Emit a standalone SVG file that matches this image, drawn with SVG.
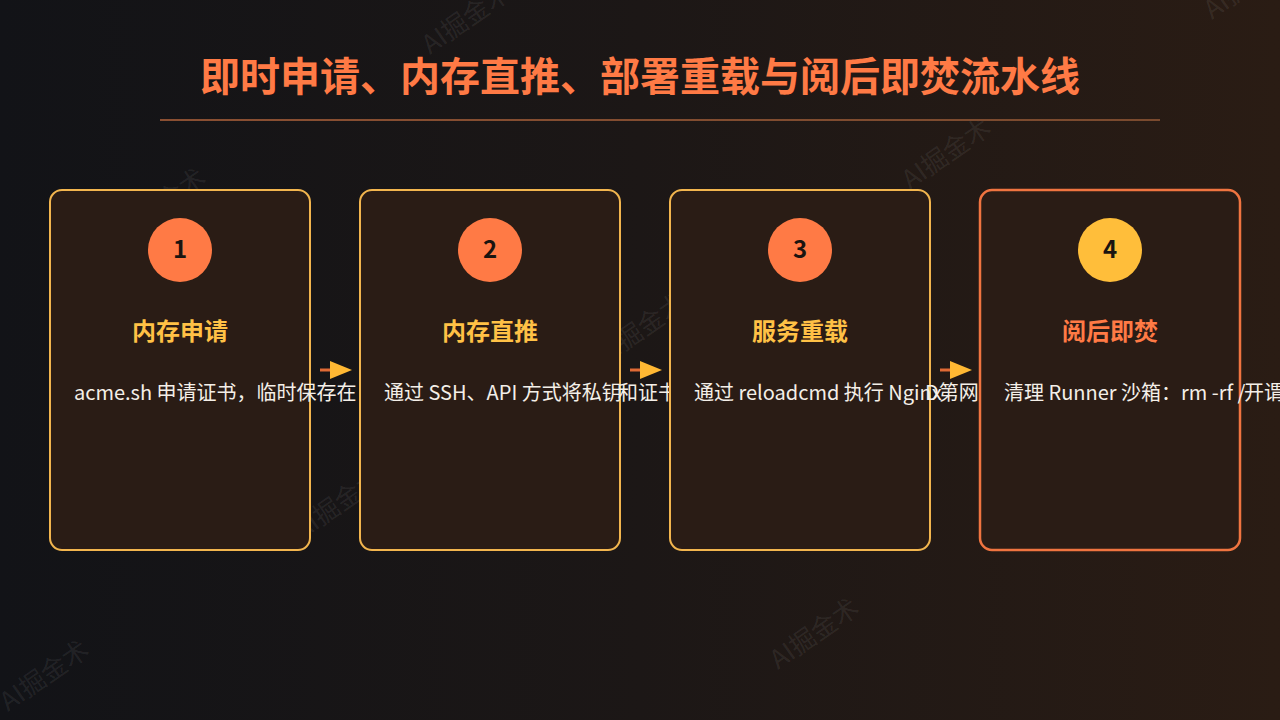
<svg xmlns="http://www.w3.org/2000/svg" width="1280" height="720" viewBox="0 0 1280 720">
<defs>
<linearGradient id="bg" x1="0" y1="0" x2="1" y2="0">
<stop offset="0" stop-color="#121317"/>
<stop offset="0.5" stop-color="#1c1716"/>
<stop offset="1" stop-color="#2a1c14"/>
</linearGradient>
<linearGradient id="rule" x1="0" y1="0" x2="1" y2="0">
<stop offset="0" stop-color="#8a4f32"/>
<stop offset="1" stop-color="#7a4a2e"/>
</linearGradient>
</defs>
<style>
.wm{font-family:"Noto Sans CJK SC","Noto Sans",sans-serif;font-size:26px;fill:#ffffff;fill-opacity:0.08}
.card{fill:#2a1c15;stroke:#f2b54e;stroke-width:2}
.card4{fill:#2a1c15;stroke:#f07440;stroke-width:2.5}
.num{font-family:"Noto Sans CJK SC","Noto Sans",sans-serif;font-size:24px;font-weight:700;fill:#1a1410;text-anchor:middle}
.ttl{font-family:"Noto Sans CJK SC","Noto Sans",sans-serif;font-size:24px;font-weight:700;text-anchor:middle}
.desc{font-family:"Noto Sans CJK SC","Noto Sans",sans-serif;font-size:20px;fill:#f4efe8}
.ashaft{stroke:#e06a35;stroke-width:3}
.ahead{fill:#ffb833}
</style>
<rect width="1280" height="720" fill="url(#bg)"/>
<g id="watermarks">
<text class="wm" transform="translate(430,55) rotate(-35)">AI掘金术</text>
<text class="wm" transform="translate(125,240) rotate(-35)">AI掘金术</text>
<text class="wm" transform="translate(910,190) rotate(-35)">AI掘金术</text>
<text class="wm" transform="translate(1212,20) rotate(-35)">AI掘金术</text>
<text class="wm" transform="translate(605,365) rotate(-35)">AI掘金术</text>
<text class="wm" transform="translate(302,540) rotate(-35)">AI掘金术</text>
<text class="wm" transform="translate(1082,495) rotate(-35)">AI掘金术</text>
<text class="wm" transform="translate(778,670) rotate(-35)">AI掘金术</text>
<text class="wm" transform="translate(8,712) rotate(-35)">AI掘金术</text>
</g>
<g id="title">
<text x="640" y="91" text-anchor="middle" font-family="Noto Sans CJK SC, Noto Sans, sans-serif" font-size="40" font-weight="700" fill="#ff7a45">即时申请、内存直推、部署重载与阅后即焚流水线</text>
<rect x="160" y="119" width="1000" height="2" fill="url(#rule)"/>
</g>
<g id="step1">
<rect class="card" x="50" y="190" width="260" height="360" rx="12"/>
<circle cx="180" cy="250" r="32" fill="#ff7a45"/>
<text class="num" x="180" y="258">1</text>
<text class="ttl" x="180" y="340" fill="#ffc146">内存申请</text>
<text class="desc" x="74" y="400">acme.sh 申请证书，临时保存在</text>
</g>
<g id="step2">
<rect class="card" x="360" y="190" width="260" height="360" rx="12"/>
<circle cx="490" cy="250" r="32" fill="#ff7a45"/>
<text class="num" x="490" y="258">2</text>
<text class="ttl" x="490" y="340" fill="#ffc146">内存直推</text>
<text class="desc" x="384" y="400">通过 SSH、API 方式将私钥</text>
<text class="desc" x="618" y="400">和证书推送</text>
</g>
<g id="step3">
<rect class="card" x="670" y="190" width="260" height="360" rx="12"/>
<circle cx="800" cy="250" r="32" fill="#ff7a45"/>
<text class="num" x="800" y="258">3</text>
<text class="ttl" x="800" y="340" fill="#ffc146">服务重载</text>
<text class="desc" x="694" y="400">通过 reloadcmd 执行 Nginx</text>
<text class="desc" x="925" y="400">D第网</text>
</g>
<g id="step4">
<rect class="card4" x="980" y="190" width="260" height="360" rx="12"/>
<circle cx="1110" cy="250" r="32" fill="#ffbe3a"/>
<text class="num" x="1110" y="258">4</text>
<text class="ttl" x="1110" y="340" fill="#ff7a45">阅后即焚</text>
<text class="desc" x="1004" y="400">清理 Runner 沙箱：rm -rf /</text>
<text class="desc" x="1244" y="400">开谓</text>
</g>
<g id="connectors">
<line class="ashaft" x1="320" y1="370" x2="332" y2="370"/>
<polygon class="ahead" points="330,361 352,370 330,379"/>
<line class="ashaft" x1="630" y1="370" x2="642" y2="370"/>
<polygon class="ahead" points="640,361 662,370 640,379"/>
<line class="ashaft" x1="940" y1="370" x2="952" y2="370"/>
<polygon class="ahead" points="950,361 972,370 950,379"/>
</g>
</svg>
